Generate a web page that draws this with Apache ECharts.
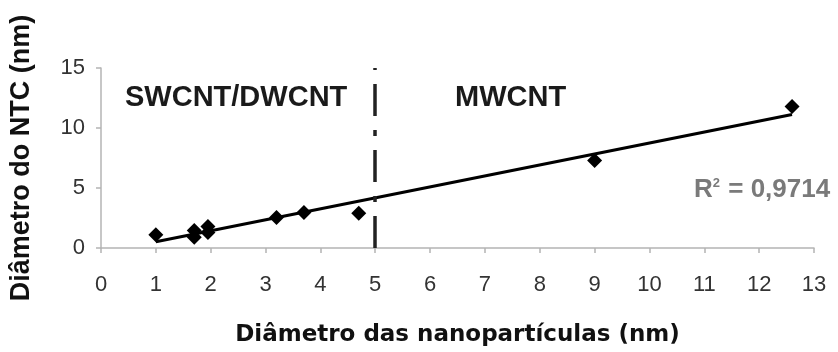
<!DOCTYPE html>
<html>
<head>
<meta charset="utf-8">
<script src="https://cdn.jsdelivr.net/npm/echarts@6/dist/echarts.min.js"></script>
<style>
  html, body { margin: 0; padding: 0; background: #fff; }
  #chart { width: 838px; height: 352px; }
</style>
</head>
<body>
<div id="chart"></div>
<script>
// Nanoparticle diameter (nm) vs. carbon nanotube diameter (nm)
const particleDiameter = [1.0, 1.7, 1.7, 1.95, 1.95, 3.2, 3.7, 4.7, 9.0, 12.6];
const tubeDiameter     = [1.1, 1.45, 0.9, 1.8, 1.3, 2.55, 2.95, 2.9, 7.3, 11.8];
const regimeBoundary = 5;
const rSquaredText = '0,9714';

// Least-squares linear trend through the measured points
function linearFit(xs, ys) {
  const n = xs.length;
  const mx = xs.reduce((a, b) => a + b, 0) / n;
  const my = ys.reduce((a, b) => a + b, 0) / n;
  let sxy = 0, sxx = 0;
  for (let i = 0; i < n; i++) {
    sxy += (xs[i] - mx) * (ys[i] - my);
    sxx += (xs[i] - mx) * (xs[i] - mx);
  }
  const slope = sxy / sxx;
  return { slope, intercept: my - slope * mx };
}
const fit = linearFit(particleDiameter, tubeDiameter);
const xMin = Math.min(...particleDiameter);
const xMax = Math.max(...particleDiameter);
const trend = [xMin, xMax].map(x => [x, fit.intercept + fit.slope * x]);

const points = particleDiameter.map((x, i) => [x, tubeDiameter[i]]);

const sans = '"Liberation Sans", Arial, sans-serif';
const chart = echarts.init(document.getElementById('chart'), null, { renderer: 'canvas' });

chart.setOption({
  backgroundColor: '#ffffff',
  animation: false,
  grid: { left: 101, right: 24, top: 68, bottom: 101 },
  xAxis: {
    type: 'value', min: 0, max: 13, interval: 1,
    name: 'Diâmetro das nanopartículas (nm)',
    nameLocation: 'middle', nameGap: 76,
    nameTextStyle: { fontFamily: '"DejaVu Sans", Verdana, sans-serif', fontWeight: 'bold', fontSize: 23, color: '#111' },
    axisLine: { lineStyle: { color: '#b4b4b4', width: 1.5 } },
    axisTick: { show: true, length: 5, lineStyle: { color: '#b4b4b4', width: 1.5 } },
    axisLabel: { fontFamily: sans, fontSize: 22, color: '#333', margin: 26 },
    splitLine: { show: false }
  },
  yAxis: {
    type: 'value', min: 0, max: 15, interval: 5,
    name: 'Diâmetro do NTC (nm)',
    nameLocation: 'middle', nameGap: 66, nameRotate: 90,
    nameTextStyle: { fontFamily: sans, fontWeight: 'bold', fontSize: 27, color: '#111' },
    axisLine: { show: true, lineStyle: { color: '#b4b4b4', width: 1.5 } },
    axisTick: { show: true, length: 5, lineStyle: { color: '#b4b4b4', width: 1.5 } },
    axisLabel: { fontFamily: sans, fontSize: 22, color: '#333', margin: 16 },
    splitLine: { show: false }
  },
  series: [
    {
      name: 'Tendência',
      type: 'line',
      data: trend,
      symbol: 'none',
      lineStyle: { color: '#000', width: 3 },
      z: 3,
      markLine: {
        silent: true,
        symbol: 'none',
        label: { show: false },
        lineStyle: { color: '#222', width: 3.5, opacity: 1, type: [32, 14, 6, 14] },
        data: [{ xAxis: regimeBoundary }]
      }
    },
    {
      name: 'Medidas',
      type: 'scatter',
      data: points,
      symbol: 'diamond',
      symbolSize: 15,
      itemStyle: { color: '#000', opacity: 1 },
      z: 4
    }
  ],
  graphic: [
    {
      type: 'text', left: 125, top: 83,
      style: { text: 'SWCNT/DWCNT', font: 'bold 29px ' + sans, fill: '#1a1a1a' }
    },
    {
      type: 'text', left: 455, top: 83,
      style: { text: 'MWCNT', font: 'bold 29px ' + sans, fill: '#1a1a1a' }
    },
    {
      type: 'text', left: 694, top: 177,
      style: {
        text: '{r|R}{s|2}{r| = ' + rSquaredText + '}',
        rich: {
          r: { fontFamily: sans, fontWeight: 'bold', fontSize: 26, fill: '#7a7a7a' },
          s: { fontFamily: sans, fontWeight: 'bold', fontSize: 13, fill: '#7a7a7a', verticalAlign: 'top', padding: [0, 1, 11, 0] }
        }
      }
    }
  ]
});
</script>
</body>
</html>
